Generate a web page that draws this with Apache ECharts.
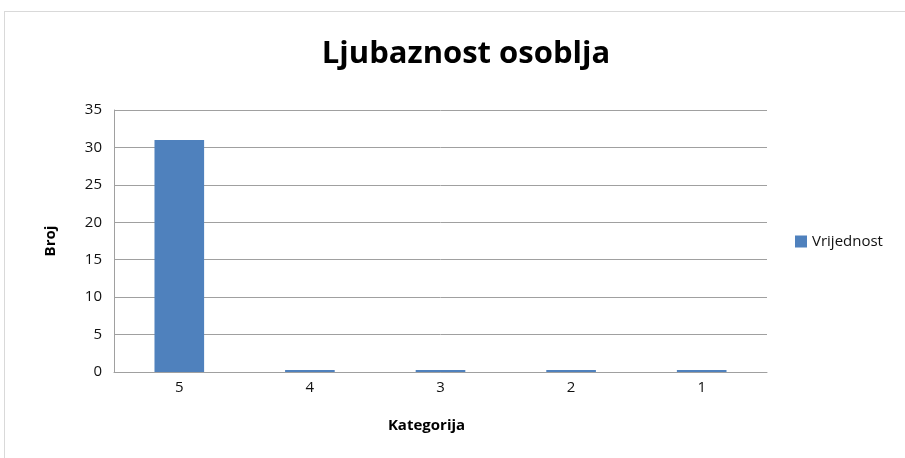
<!DOCTYPE html>
<html lang="hr">
<head>
    <meta charset="UTF-8">
    <title>Ljubaznost osoblja</title>
    <style>
        html, body { margin: 0; padding: 0; background: #fff; }
        #frame { position: absolute; left: 4px; top: 11px; width: 920px; height: 470px; border: 1px solid #d9d9d9; }
        #main { width: 905px; height: 458px; position: absolute; left: 0; top: 0; }
    </style>
</head>
<body>
    <div id="frame"></div>
    <div id="main"></div>
<script src="https://cdn.jsdelivr.net/npm/echarts@6/dist/echarts.min.js"></script>
<script type="text/javascript">
    var categories = ['5', '4', '3', '2', '1'];
    var values = [31, 0, 0, 0, 0];
    var yTicks = [0, 5, 10, 15, 20, 25, 30, 35];

    var myChart = echarts.init(document.getElementById('main'));
    var font = '"Open Sans", sans-serif';

    var option = {
        animation: false,
        title: {
            text: 'Ljubaznost osoblja',
            left: 461,
            top: 34,
            textAlign: 'center',
            textStyle: { fontFamily: font, fontSize: 31, fontWeight: 'bold', color: '#000' }
        },
        legend: {
            data: ['Vrijednost'],
            orient: 'vertical',
            left: 790,
            top: 229,
            itemWidth: 12,
            itemHeight: 12,
            itemGap: 6,
            icon: 'rect',
            textStyle: { fontFamily: font, fontSize: 15, color: '#111' }
        },
        grid: { left: 114, top: 110, right: 138, bottom: 86 },
        xAxis: {
            type: 'category',
            data: categories,
            name: 'Kategorija',
            nameLocation: 'middle',
            nameGap: 46,
            nameTextStyle: { fontFamily: font, fontSize: 15, fontWeight: 'bold', color: '#000', padding: [0, 28, 0, 0] },
            axisLine: { lineStyle: { color: '#a0a0a0', width: 1 } },
            axisTick: { show: false },
            axisLabel: { fontFamily: font, fontSize: 15, color: '#111', margin: 8 }
        },
        yAxis: {
            type: 'value',
            min: 0,
            max: yTicks[yTicks.length - 1],
            interval: 5,
            name: 'Broj',
            nameLocation: 'middle',
            nameGap: 56,
            nameTextStyle: { fontFamily: font, fontSize: 15, fontWeight: 'bold', color: '#000' },
            axisLine: { show: true, lineStyle: { color: '#a0a0a0', width: 1 } },
            axisTick: { show: false },
            splitLine: { lineStyle: { color: '#a0a0a0', width: 1 } },
            axisLabel: { fontFamily: font, fontSize: 15, color: '#111', margin: 12 }
        },
        series: [
            {
                name: 'Vrijednost',
                type: 'bar',
                data: values,
                barWidth: '38%',
                barMinHeight: 2,
                itemStyle: { color: '#4f81bd' }
            }
        ]
    };
    myChart.setOption(option);
</script>
</body>
</html>
